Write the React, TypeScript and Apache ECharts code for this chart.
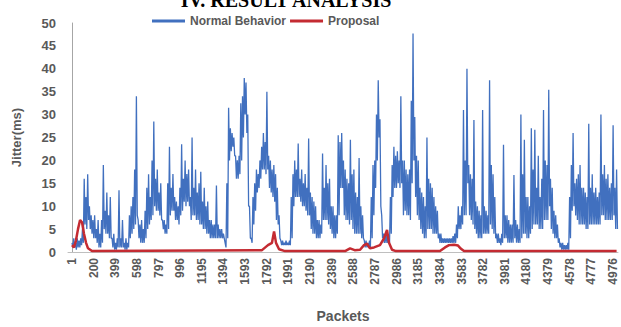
import React, { useEffect, useRef } from "react";
import * as echarts from "echarts";

// X tick labels (packet numbers)
const xTickLabels = [1, 200, 399, 598, 797, 996, 1195, 1394, 1593, 1792, 1991, 2190, 2389, 2588, 2787, 2986, 3185, 3384, 3583, 3782, 3981, 4180, 4379, 4578, 4777, 4976];

// Normal Behavior jitter (ms): per 16-packet bin, the high and the low reading of the dense trace
const normalStep = 16;
const normalHigh = [
  2, 3, 2, 3, 2.5, 3, 5, 16, 12, 17,
  10, 8, 7, 8, 5, 7, 4, 7, 19, 9,
  13, 8, 12, 3, 4, 2, 3, 13.5, 3, 7,
  2, 3, 2, 8, 10, 12, 18, 34, 7, 6,
  7, 5, 9, 14, 17, 12, 20, 28.5, 16, 18,
  13, 15, 7, 7, 6, 15, 23, 14, 17, 12,
  11, 10, 14, 23.5, 16, 20, 17, 18, 12, 25,
  14, 18, 13, 15, 17.5, 11, 14, 10, 11, 7,
  7, 6, 6, 14.5, 6, 5, 5, 4, 2, 15,
  31.5, 27, 26, 25, 21, 20, 21, 32.5, 34, 38,
  37, 30, 10, 3, 12, 15, 18, 17, 20, 23,
  26, 24, 35, 21, 20, 18, 19, 17, 14, 8,
  2.5, 2.5, 2, 2.5, 2, 2.5, 12, 17, 20, 18,
  23.7, 16, 18, 15, 17, 14, 24.8, 13, 12, 11,
  10, 7, 7, 6, 21.5, 14, 19, 15, 16, 10,
  10, 8, 8, 25.5, 24, 26, 20, 18, 16, 15,
  24.5, 17, 18, 13, 12, 20.5, 10, 8, 2.5, 2.5,
  2, 2.5, 12, 19, 20, 30, 37.5, 29, 8, 4,
  4, 4, 3, 12, 19, 23, 21, 22, 20, 34,
  20, 20, 18, 17, 18, 33, 47.7, 29.5, 21, 20,
  14, 13, 12, 10, 25, 16, 15, 14, 12, 10,
  9, 4, 4, 3, 3, 3, 3, 3, 3, 3.5,
  4, 6, 10, 8, 10, 31, 20, 40, 19, 17,
  16, 28.8, 11, 10, 9, 8, 31, 10, 9, 8,
  37.5, 19, 17, 12, 4, 4, 3, 4, 23.4, 8,
  8, 7, 6, 6, 16.8, 7, 6, 5, 30, 17,
  24.5, 12, 12, 10, 27, 18, 26.7, 14, 21, 12,
  16, 31, 20, 19, 35.4, 16, 14, 9, 8, 6,
  3, 2, 2, 1.5, 1.5, 2, 12, 19, 26, 15,
  16, 17, 19, 14, 14, 13, 12, 28, 14, 17,
  13, 14, 12, 13, 30, 17, 19, 16, 17, 14,
  15, 27.7, 14, 18,
];
const normalLow = [
  1, 1, 0.5, 1, 1, 1.5, 2, 6, 5, 7,
  5, 4, 3, 3, 2, 1, 1, 2, 5, 4,
  4, 3, 3, 1, 0.5, 0.5, 1, 1, 1, 1,
  0.5, 0.5, 1, 3, 4, 5, 6, 8, 3, 2,
  2, 2, 3, 5, 6, 7, 8, 10, 9, 9,
  8, 7, 5, 4, 4, 5, 8, 9, 9, 7,
  7, 6, 8, 9, 11, 10, 11, 10, 7, 8,
  8, 7, 7, 6, 6, 5, 5, 4, 4, 3,
  3, 3, 3, 3, 3, 3, 3, 3, 1, 3,
  20, 22, 23, 21, 16, 16, 17, 20, 25, 30,
  26, 10, 3, 2, 6, 9, 13, 14, 16, 18,
  18, 17, 18, 14, 13, 12, 11, 7, 6, 3,
  1.5, 1.5, 1.5, 1.5, 1.5, 1.5, 3, 10, 12, 12,
  12, 11, 10, 10, 9, 8, 8, 5, 4, 4,
  3, 3, 3, 4, 7, 7, 7, 6, 5, 4,
  3, 3, 4, 8, 14, 14, 8, 7, 7, 6,
  7, 5, 4, 4, 4, 4, 3, 3, 1, 1,
  1, 1, 3, 8, 14, 20, 25, 10, 3, 2,
  2, 2, 2, 4, 12, 14, 14, 15, 14, 15,
  8, 9, 8, 8, 7, 15, 20, 12, 8, 7,
  5, 4, 3, 3, 5, 5, 5, 4, 4, 4,
  3, 2, 2, 2, 2, 2, 2, 2, 2, 2,
  2, 3, 5, 5, 6, 8, 8, 15, 8, 7,
  6, 5, 4, 3, 3, 3, 4, 4, 4, 4,
  6, 5, 4, 3, 2, 2, 1.5, 2, 3, 3,
  2, 2, 2, 2, 3, 2, 2, 2, 3, 4,
  4, 3, 3, 4, 5, 6, 6, 6, 5, 5,
  5, 7, 7, 7, 10, 5, 4, 3, 3, 2,
  1, 0.5, 0.5, 0.5, 0.5, 0.5, 3, 9, 10, 8,
  7, 6, 6, 6, 6, 5, 5, 6, 6, 6,
  6, 6, 6, 6, 8, 8, 7, 7, 7, 7,
  7, 8, 5, 5,
];

// Proposal jitter (ms) at selected packets
const proposalPackets = [1, 19, 37, 56, 75, 93, 111, 130, 148, 185, 1748, 1803, 1840, 1859, 1877, 1905, 1960, 2512, 2558, 2600, 2650, 2686, 2714, 2741, 2778, 2833, 2870, 2898, 2916, 2944, 2980, 3385, 3431, 3468, 3514, 3551, 3578, 3606, 5009];
const proposalValues = [1.5, 1, 2.5, 5, 7, 6.5, 4, 2, 0.8, 0.2, 0.4, 1.5, 2, 4.5, 2, 0.6, 0.2, 0.2, 0.8, 0.4, 0.5, 1.5, 1.8, 0.8, 1.0, 1.5, 3, 4.8, 2, 0.5, 0.2, 0.2, 1, 1.5, 1.6, 1.4, 0.7, 0.2, 0.2];

const BLUE = "#4170bf";
const RED = "#c42b32";
const GRAY = "#595959";

export default function App() {
  const ref = useRef<HTMLDivElement>(null);
  useEffect(() => {
    const chart = echarts.init(ref.current!, null, { renderer: "svg" });
    const normalData: number[][] = [];
    normalHigh.forEach((h, i) => {
      normalData.push([1 + i * normalStep, h]);
      normalData.push([1 + i * normalStep + normalStep / 2, normalLow[i]]);
    });
    const proposalData = proposalPackets.map((p, i) => [p, proposalValues[i]]);
    chart.setOption({
      animation: false,
      backgroundColor: "#ffffff",
      textStyle: { fontFamily: "Liberation Sans" },
      graphic: [
        {
          type: "text",
          x: 286,
          y: 10,
          style: {
            text: "IV. RESULT ANALYSIS",
            font: 'bold 20px "Liberation Serif"',
            fill: "#000",
            align: "center",
            verticalAlign: "bottom",
          },
        },
      ],
      legend: {
        left: 147,
        top: 10,
        icon: "rect",
        itemWidth: 33,
        itemHeight: 3,
        itemGap: 4,
        textStyle: { color: GRAY, fontSize: 12, fontWeight: "bold" },
        data: ["Normal Behavior", "Proposal"],
      },
      grid: { left: 68, right: 3, top: 23, bottom: 75, containLabel: false, outerBoundsMode: "none" },
      xAxis: {
        type: "value",
        min: -36,
        max: 5022,
        name: "Packets",
        nameLocation: "middle",
        nameGap: 57,
        nameTextStyle: { fontSize: 14, fontWeight: "bold", color: GRAY },
        axisLine: { show: true, lineStyle: { color: "#bfbfbf" } },
        axisTick: { show: false },
        splitLine: { show: false },
        axisLabel: {
          customValues: xTickLabels,
          formatter: (v: number) => String(v),
          rotate: 90,
          fontSize: 12,
          fontWeight: "bold",
          color: GRAY,
          margin: 6,
        },
      },
      yAxis: {
        type: "value",
        min: 0,
        max: 50,
        interval: 5,
        name: "Jitter(ms)",
        nameLocation: "middle",
        nameGap: 45,
        nameTextStyle: { fontSize: 13, fontWeight: "bold", color: GRAY },
        axisLine: { show: true, lineStyle: { color: "#a6a6a6" } },
        axisTick: { show: false },
        splitLine: { show: false },
        axisLabel: { fontSize: 13, fontWeight: "bold", color: GRAY, margin: 12 },
      },
      series: [
        {
          type: "line",
          name: "Normal Behavior",
          data: normalData,
          symbol: "none",
          showSymbol: false,
          lineStyle: { width: 1.3, color: BLUE },
          itemStyle: { color: BLUE },
        },
        {
          type: "line",
          name: "Proposal",
          data: proposalData,
          symbol: "none",
          showSymbol: false,
          lineStyle: { width: 2.5, color: RED },
          itemStyle: { color: RED },
        },
      ],
    });
    return () => chart.dispose();
  }, []);
  return (
    <div
      ref={ref}
      style={{ position: "absolute", left: 0, top: 0, width: 621, height: 327, background: "#fff" }}
    />
  );
}
